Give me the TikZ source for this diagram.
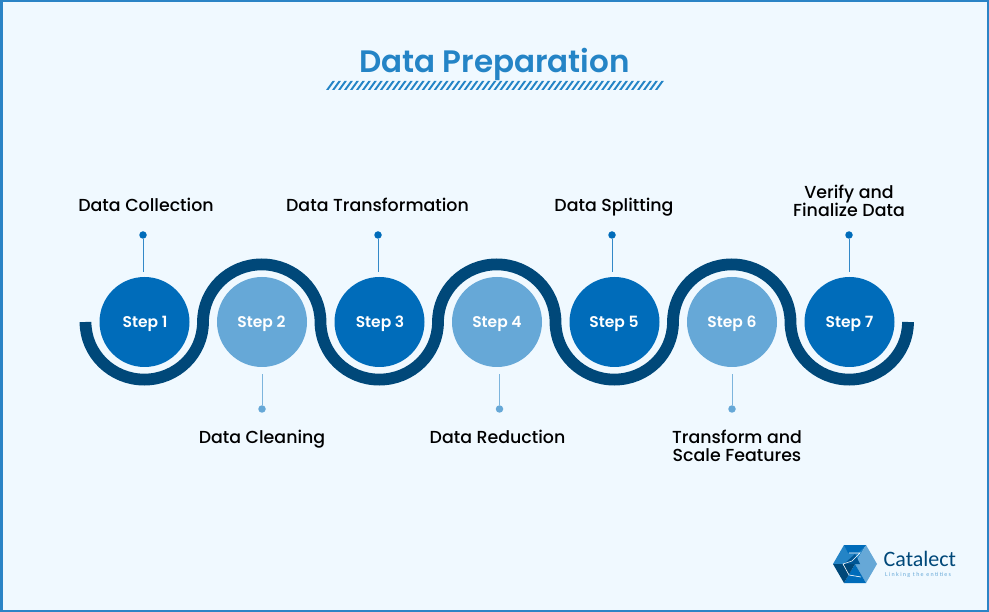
\documentclass[tikz,border=0pt]{standalone}
\usepackage{fontspec}
\setmainfont{Poppins}[BoldFont={Poppins SemiBold}]
\newfontfamily\labelfont{Poppins Medium}
\newfontfamily\logofont{Carlito}
\definecolor{bgc}{HTML}{F0F9FF}
\definecolor{framec}{HTML}{2B84C6}
\definecolor{wavec}{HTML}{004879}
\definecolor{darkc}{HTML}{006CBA}
\definecolor{lightc}{HTML}{66A8D7}
\definecolor{titlec}{HTML}{2484C6}
\tikzset{
 x=1pt,y=-1pt,
 stepdark/.style={circle,fill=darkc,minimum size=90pt,inner sep=0pt},
 steplight/.style={stepdark,fill=lightc},
 steptext/.style={font=\fontsize{15.5}{16}\selectfont\bfseries,text=white,anchor=base,inner sep=0pt},
 lbl/.style={font=\labelfont\fontsize{17.4}{18}\selectfont,text=black,align=center,inner sep=0pt,anchor=base},
 dotdark/.style={circle,fill=darkc,minimum size=7.5pt,inner sep=0pt},
 dotlight/.style={dotdark,fill=lightc},
 stemdark/.style={draw=darkc!80!white,line width=.9pt},
 stemlight/.style={draw=lightc!85!white,line width=.9pt},
 wavearc/.style={line width=11.8pt},
}
\begin{document}
\begin{tikzpicture}
\useasboundingbox (0,0) rectangle (989,612);
\fill[framec] (0,0) rectangle (989,612);
\fill[bgc] (2.5,2.5) rectangle (986.5,609.5);
\node[font=\fontsize{31}{36}\selectfont\bfseries,text=titlec,inner sep=0pt,anchor=base] (title) at (494.5,73) {Data Preparation};
\foreach \i in {0,...,55} {
  \fill[titlec] ({326+\i*5.98},90) -- ({328.4+\i*5.98},90) -- ({334.9+\i*5.98},81) -- ({332.5+\i*5.98},81) -- cycle;
}
\draw[wavec,wavearc] (85.5,322)
  arc[start angle=180,end angle=360,x radius=58.75,y radius=-57.6]
  arc[start angle=180,end angle=0,x radius=58.75,y radius=-57.6]
  arc[start angle=180,end angle=360,x radius=58.75,y radius=-57.6]
  arc[start angle=180,end angle=0,x radius=58.75,y radius=-57.6]
  arc[start angle=180,end angle=360,x radius=58.75,y radius=-57.6]
  arc[start angle=180,end angle=0,x radius=58.75,y radius=-57.6]
  arc[start angle=180,end angle=360,x radius=58.75,y radius=-57.6];
\node[stepdark] (s1) at (144.5,322) {};
\node[steplight] (s2) at (262,322) {};
\node[stepdark] (s3) at (379.5,322) {};
\node[steplight] (s4) at (497,322) {};
\node[stepdark] (s5) at (614.5,322) {};
\node[steplight] (s6) at (732,322) {};
\node[stepdark] (s7) at (849.5,322) {};
\node[steptext] (t1) at (145,328) {Step 1};
\node[steptext] (t2) at (261.5,328) {Step 2};
\node[steptext] (t3) at (380,328) {Step 3};
\node[steptext] (t4) at (497,328) {Step 4};
\node[steptext] (t5) at (614,328) {Step 5};
\node[steptext] (t6) at (732,328) {Step 6};
\node[steptext] (t7) at (849.5,328) {Step 7};
\node[dotdark] (d1) at (143,235) {};
\node[dotlight] (d2) at (262,409) {};
\node[dotdark] (d3) at (378,235) {};
\node[dotlight] (d4) at (499.5,409) {};
\node[dotdark] (d5) at (612,235) {};
\node[dotlight] (d6) at (732,409) {};
\node[dotdark] (d7) at (849,235) {};
\coordinate (e1) at (143,272);\coordinate (e2) at (262,374);
\coordinate (e3) at (378,272);\coordinate (e4) at (499.5,374);
\coordinate (e5) at (612,272);\coordinate (e6) at (732,374);
\coordinate (e7) at (849,272);
\draw[stemdark] (d1) -- (e1);
\draw[stemlight] (d2) -- (e2);
\draw[stemdark] (d3) -- (e3);
\draw[stemlight] (d4) -- (e4);
\draw[stemdark] (d5) -- (e5);
\draw[stemlight] (d6) -- (e6);
\draw[stemdark] (d7) -- (e7);
\node[lbl] (l1) at (146,212) {Data Collection};
\node[lbl] (l2) at (262,444) {Data Cleaning};
\node[lbl] (l3) at (377.5,212) {Data Transformation};
\node[lbl] (l4) at (497.5,444) {Data Reduction};
\node[lbl] (l5) at (614,212) {Data Splitting};
\node[lbl] (l6) at (737,461.5) {Transform and\\Scale Features};
\node[lbl] (l7) at (849,216.5) {Verify and\\Finalize Data};
% logo: hexagon with corners left and right
\coordinate (hc) at (855,564);
\coordinate (ha) at (833,564);\coordinate (hb) at (844,545);\coordinate (hd) at (866,545);
\coordinate (he) at (877,564);\coordinate (hf) at (866,583);\coordinate (hg) at (844,583);
\fill[titlec] (ha) -- (hb) -- (hd) -- (hc) -- cycle;
\fill[lightc] (hd) -- (he) -- (hf) -- (hc) -- cycle;
\fill[darkc] (hb) -- (hd) -- (858,553) -- (848,553) -- cycle;
\fill[darkc] (hg) -- (hc) -- (hf) -- cycle;
\fill[wavec] (ha) -- (hc) -- (hg) -- cycle;
\fill[darkc!80!black] (844,564) -- (855,554) -- (860,564) -- cycle;
\draw[white,line width=.6pt] (849,553) -- (860,553) -- (852,561) -- (843,564) -- (849,575) -- (861,577);
\node[font=\logofont\fontsize{22}{22}\selectfont,text=wavec,anchor=base west,inner sep=0pt] (logo) at (883.5,566.7) {Catalect};
\node[font=\logofont\fontsize{6}{6}\selectfont,text=lightc,anchor=base west,inner sep=0pt] (tag) at (885,576.5) {\addfontfeature{LetterSpace=22}Linking the entities};
\end{tikzpicture}
\end{document}
